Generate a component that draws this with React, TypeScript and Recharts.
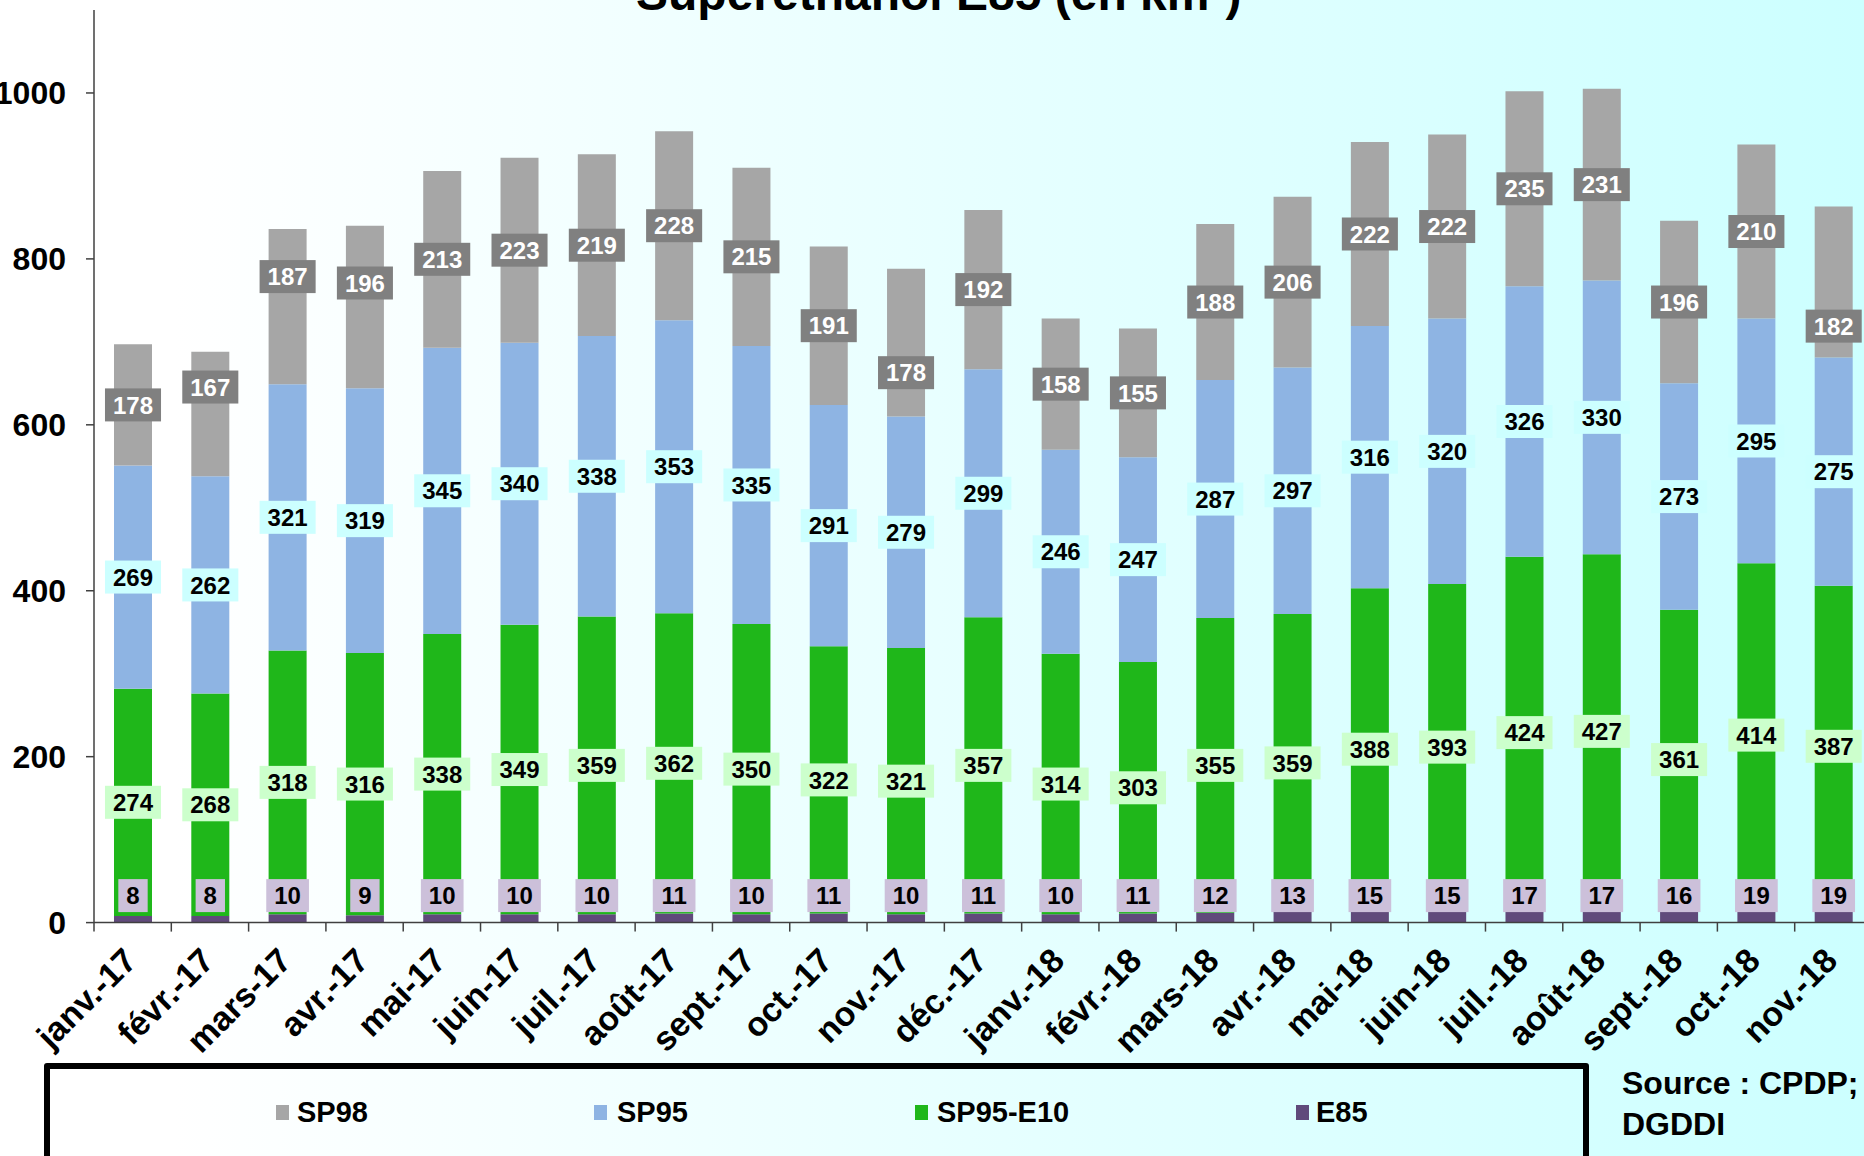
import React from 'react';
import { BarChart, Bar, XAxis, YAxis, LabelList, Legend } from 'recharts';

const months = ['janv.-17', 'févr.-17', 'mars-17', 'avr.-17', 'mai-17', 'juin-17', 'juil.-17', 'août-17', 'sept.-17', 'oct.-17', 'nov.-17', 'déc.-17', 'janv.-18', 'févr.-18', 'mars-18', 'avr.-18', 'mai-18', 'juin-18', 'juil.-18', 'août-18', 'sept.-18', 'oct.-18', 'nov.-18'];
const e85 = [8, 8, 10, 9, 10, 10, 10, 11, 10, 11, 10, 11, 10, 11, 12, 13, 15, 15, 17, 17, 16, 19, 19];
const sp95e10 = [274, 268, 318, 316, 338, 349, 359, 362, 350, 322, 321, 357, 314, 303, 355, 359, 388, 393, 424, 427, 361, 414, 387];
const sp95 = [269, 262, 321, 319, 345, 340, 338, 353, 335, 291, 279, 299, 246, 247, 287, 297, 316, 320, 326, 330, 273, 295, 275];
// drawn heights of the SP98 segments (first two differ from their printed labels in the source)
const sp98 = [146, 150, 187, 196, 213, 223, 219, 228, 215, 191, 178, 192, 158, 155, 188, 206, 222, 222, 235, 231, 196, 210, 182];
const sp98Labels = [178, 167, 187, 196, 213, 223, 219, 228, 215, 191, 178, 192, 158, 155, 188, 206, 222, 222, 235, 231, 196, 210, 182];
const yTicks = [0, 200, 400, 600, 800, 1000];

const seriesNames = ['SP98', 'SP95', 'SP95-E10', 'E85'];
const seriesColors = ['#a6a6a6', '#8eb4e3', '#1fb71a', '#604a7b'];

const data = months.map((m, i) => ({
  month: m,
  e85: e85[i],
  sp95e10: sp95e10[i],
  sp95: sp95[i],
  sp98: sp98[i],
  sp98Label: sp98Labels[i],
}));

const FONT = '"Liberation Sans", Arial, sans-serif';
const CHART_W = 1872;
const Y_AXIS_W = 94;
const BAND = (CHART_W - Y_AXIS_W) / months.length;

// manual vertical nudges (px) of some SP98 labels, as placed in the source chart
const sp98LabelNudge: Record<number, number> = { 1: -27, 2: -30, 3: -24, 10: 30, 22: 44 };

const makeLabel = (fill: string, color: string, mode: 'center' | 'base', nudge: Record<number, number> = {}) => (props: any) => {
  const vb = props.viewBox || props;
  const x = Number(vb.x), y = Number(vb.y), w = Number(vb.width), h = Number(vb.height);
  const cx = x + w / 2;
  const extra = nudge[props.index] || 0;
  const cy = (mode === 'base' ? y + h - 27 : y + h / 2) + extra;
  const text = String(props.value);
  const bw = text.length * 13.35 + 16;
  const bh = 33;
  return (
    <g>
      <rect x={cx - bw / 2} y={cy - bh / 2} width={bw} height={bh} fill={fill} />
      <text x={cx} y={cy} dy="0.36em" textAnchor="middle" fontSize={24} fontWeight="bold" fill={color} fontFamily={FONT}>
        {text}
      </text>
    </g>
  );
};

const XTick = (props: any) => {
  const { x, y, payload } = props;
  const half = BAND / 2;
  return (
    <g>
      <line x1={x - half} y1={y} x2={x - half} y2={y + 9} stroke="#404040" strokeWidth={1.5} />
      <text
        transform={`translate(${x + 6},${y + 40}) rotate(-45)`}
        textAnchor="end"
        fontSize={34}
        fontWeight="bold"
        fill="#000"
        fontFamily={FONT}
      >
        {payload.value}
      </text>
    </g>
  );
};

const legendOffsets = [
  { sw: 232, tx: 253 },
  { sw: 550, tx: 573 },
  { sw: 871, tx: 893 },
  { sw: 1252, tx: 1272 },
];

const LegendBox = () => (
  <div
    style={{
      position: 'relative',
      width: 1545,
      height: 140,
      border: '6px solid #000',
      borderRadius: 3,
      boxSizing: 'border-box',
      fontFamily: FONT,
    }}
  >
    {seriesNames.map((n, i) => (
      <React.Fragment key={n}>
        <div
          style={{
            position: 'absolute',
            left: legendOffsets[i].sw - 6,
            top: 36,
            width: 13,
            height: 15,
            background: seriesColors[i],
          }}
        />
        <div
          style={{
            position: 'absolute',
            left: legendOffsets[i].tx - 6,
            top: 26,
            fontSize: 29,
            fontWeight: 'bold',
            lineHeight: '34px',
            color: '#000',
            whiteSpace: 'nowrap',
          }}
        >
          {n}
        </div>
      </React.Fragment>
    ))}
  </div>
);

export default function App() {
  return (
    <div
      style={{
        position: 'absolute',
        left: 0,
        top: 0,
        width: 1864,
        height: 1156,
        overflow: 'hidden',
        background: 'linear-gradient(to right, #ffffff 0px, #ffffff 175px, #ccffff 1864px)',
        fontFamily: FONT,
      }}
    >
      <div
        style={{
          position: 'absolute',
          left: 636,
          top: -30,
          fontSize: 48,
          lineHeight: '48px',
          fontWeight: 'bold',
          color: '#000',
          whiteSpace: 'nowrap',
        }}
      >
        Superéthanol E85 (en km³)
      </div>
      <div style={{ position: 'absolute', left: 0, top: 0 }}>
        <BarChart
          width={CHART_W}
          height={1156}
          data={data}
          margin={{ top: 10, right: 0, left: 0, bottom: 93.4 }}
          barSize={38}
        >
          <XAxis
            dataKey="month"
            interval={0}
            tickLine={false}
            tickSize={0}
            tickMargin={0}
            height={140}
            axisLine={{ stroke: '#404040', strokeWidth: 1.5 }}
            tick={<XTick />}
          />
          <YAxis
            width={Y_AXIS_W}
            domain={[0, 1100]}
            ticks={yTicks}
            allowDataOverflow
            tickSize={8}
            tickMargin={20}
            axisLine={{ stroke: '#404040', strokeWidth: 1.5 }}
            tickLine={{ stroke: '#404040', strokeWidth: 1.5 }}
            tick={{ fontSize: 32, fontWeight: 'bold', fill: '#000', fontFamily: FONT }}
          />
          <Legend
            layout="horizontal"
            verticalAlign="middle"
            align="center"
            wrapperStyle={{ left: 44, top: 1063, width: 1545, height: 140 }}
            content={() => <LegendBox />}
          />
          <Bar dataKey="e85" stackId="a" fill={seriesColors[3]} name="E85" isAnimationActive={false}>
            <LabelList dataKey="e85" content={makeLabel('#ccc0da', '#000', 'base')} />
          </Bar>
          <Bar dataKey="sp95e10" stackId="a" fill={seriesColors[2]} name="SP95-E10" isAnimationActive={false}>
            <LabelList dataKey="sp95e10" content={makeLabel('#ccffcc', '#000', 'center')} />
          </Bar>
          <Bar dataKey="sp95" stackId="a" fill={seriesColors[1]} name="SP95" isAnimationActive={false}>
            <LabelList dataKey="sp95" content={makeLabel('#ccffff', '#000', 'center')} />
          </Bar>
          <Bar dataKey="sp98" stackId="a" fill={seriesColors[0]} name="SP98" isAnimationActive={false}>
            <LabelList dataKey="sp98Label" content={makeLabel('#808080', '#fff', 'center', sp98LabelNudge)} />
          </Bar>
        </BarChart>
      </div>
      <div
        style={{
          position: 'absolute',
          left: 1622,
          top: 1063,
          fontSize: 32,
          lineHeight: '41px',
          fontWeight: 'bold',
          color: '#000',
          whiteSpace: 'nowrap',
        }}
      >
        Source : CPDP;
        <br />
        DGDDI
      </div>
    </div>
  );
}
